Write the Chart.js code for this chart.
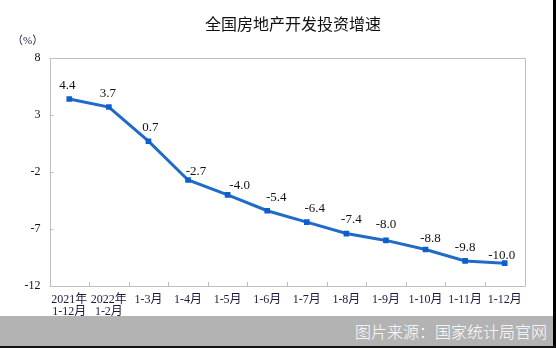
<!DOCTYPE html>
<html lang="zh-CN">
<head>
<meta charset="UTF-8">
<title>全国房地产开发投资增速</title>
<script src="https://cdn.jsdelivr.net/npm/chart.js@4"></script>
<style>
    html, body { margin: 0; padding: 0; background: #fff; }
    #wrap { position: relative; width: 556px; height: 348px; overflow: hidden; }
    #myChart { position: absolute; left: 0; top: 0; }
    #title {
        position: absolute; left: 205px; top: 11px; width: 176px; text-align: center;
        font: 400 16px "Noto Sans CJK SC", sans-serif; color: #111; white-space: nowrap;
    }
    #unit {
        position: absolute; left: 12px; top: 31px;
        font: 11px "Liberation Serif", "Noto Sans CJK SC", serif; color: #1a1a40;
    }
    #source {
        position: absolute; left: 0; top: 316px; width: 553px; height: 30px;
        background: #b3b3b3; color: #fff; text-align: right; box-sizing: border-box;
        padding-right: 6px; font: 300 16px/30px "Noto Sans CJK SC", sans-serif;
    }
    #edgeR { position: absolute; left: 553px; top: 0; width: 3px; height: 348px; background: #000; }
    #edgeB { position: absolute; left: 0; top: 346px; width: 556px; height: 2px; background: #111; }
</style>
</head>
<body>
<div id="wrap">
    <canvas id="myChart" width="556" height="348"></canvas>
    <div id="title">全国房地产开发投资增速</div>
    <div id="unit">（%）</div>
    <div id="source">图片来源：国家统计局官网</div>
    <div id="edgeR"></div>
    <div id="edgeB"></div>
</div>

<script>
    // 月份（累计）
    var months = [
        ['2021年', '1-12月'], ['2022年', '1-2月'], '1-3月', '1-4月', '1-5月', '1-6月',
        '1-7月', '1-8月', '1-9月', '1-10月', '1-11月', '1-12月'
    ];
    // 投资增速 (%)
    var growth = [4.4, 3.7, 0.7, -2.7, -4.0, -5.4, -6.4, -7.4, -8.0, -8.8, -9.8, -10.0];
    // y轴刻度
    var yMin = -12;
    var yMax = 8;
    var yStep = 5;

    // 数据标签相对点的位置 [dx, dy]
    var labelShift = [
        [-2, -13], [-1, -13], [2, -14], [8, -8], [12, -9], [9, -13],
        [8, -14], [5, -14], [0, -16], [5, -11], [0, -13], [-3, -8]
    ];

    var serif = "'Liberation Serif', 'Noto Sans CJK SC', serif";
    var lineColor = '#1f6bc8';
    var frameColor = '#bfbfbf';

    // 外框 + 向内的刻度线
    var framePlugin = {
        id: 'frame',
        beforeDatasetsDraw: function (chart) {
            var ctx = chart.ctx;
            var a = chart.chartArea;
            var xs = chart.scales.x;
            var ys = chart.scales.y;
            ctx.save();
            ctx.strokeStyle = frameColor;
            ctx.lineWidth = 1;
            ctx.beginPath();
            ctx.rect(Math.round(a.left) + 0.5, Math.round(a.top) + 0.5,
                Math.round(a.right - a.left), Math.round(a.bottom - a.top));
            // x轴刻度（类别之间）
            for (var i = 1; i < months.length; i++) {
                var px = Math.round((xs.getPixelForValue(i - 1) + xs.getPixelForValue(i)) / 2) + 0.5;
                ctx.moveTo(px, a.bottom);
                ctx.lineTo(px, a.bottom - 4);
            }
            // y轴刻度
            for (var v = yMin; v <= yMax; v += yStep) {
                var py = Math.round(ys.getPixelForValue(v)) + 0.5;
                ctx.moveTo(a.left, py);
                ctx.lineTo(a.left + 4, py);
            }
            ctx.stroke();
            ctx.restore();
        },
        afterDatasetsDraw: function (chart) {
            var ctx = chart.ctx;
            var meta = chart.getDatasetMeta(0);
            ctx.save();
            ctx.font = '13px ' + serif;
            ctx.fillStyle = '#111';
            ctx.textAlign = 'center';
            ctx.textBaseline = 'middle';
            meta.data.forEach(function (pt, i) {
                var s = labelShift[i];
                ctx.fillText(growth[i].toFixed(1), pt.x + s[0], pt.y + s[1]);
            });
            ctx.restore();
        }
    };

    var ctx01 = document.getElementById('myChart');
    var mychart = new Chart(ctx01, {
        type: 'line',
        data: {
            labels: months,
            datasets: [{
                data: growth,
                borderColor: lineColor,
                borderWidth: 3,
                backgroundColor: '#0e5fcc',
                pointStyle: 'rect',
                pointRadius: 4,
                pointBorderWidth: 0,
                tension: 0
            }]
        },
        options: {
            responsive: false,
            devicePixelRatio: 1,
            animation: false,
            layout: { padding: { top: 58, right: 31.5, left: 0, bottom: 0 } },
            plugins: {
                legend: { display: false },
                tooltip: { enabled: false },
                title: { display: false }
            },
            scales: {
                x: {
                    offset: true,
                    grid: { display: false, drawTicks: false },
                    border: { display: false },
                    ticks: {
                        autoSkip: false,
                        maxRotation: 0,
                        minRotation: 0,
                        padding: 8,
                        color: '#1a1a40',
                        font: { family: serif, size: 12, lineHeight: 1 }
                    },
                    afterFit: function (scale) { scale.height = 62; }
                },
                y: {
                    min: yMin,
                    max: yMax,
                    grid: { display: false, drawTicks: false },
                    border: { display: false },
                    ticks: {
                        stepSize: yStep,
                        padding: 9,
                        color: '#111',
                        font: { family: serif, size: 12 }
                    },
                    afterFit: function (scale) { scale.width = 49.5; }
                }
            }
        },
        plugins: [framePlugin]
    });
</script>
</body>
</html>
